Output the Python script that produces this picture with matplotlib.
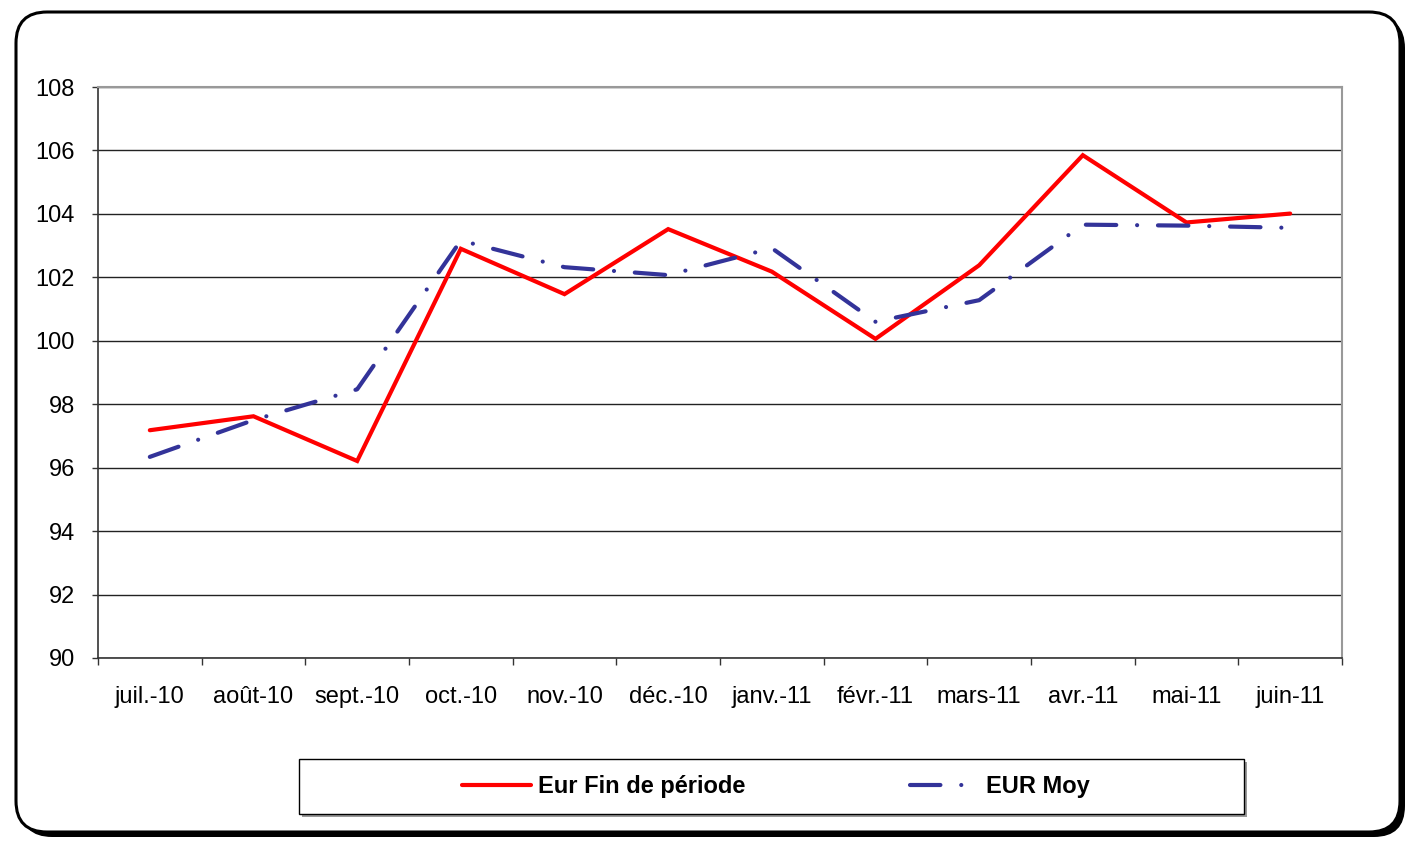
import matplotlib.pyplot as plt
from matplotlib.patches import FancyBboxPatch, Rectangle

plt.rcParams['font.family'] = ['Liberation Sans', 'DejaVu Sans']

# monthly index values
months = ["juil.-10", "août-10", "sept.-10", "oct.-10", "nov.-10", "déc.-10",
          "janv.-11", "févr.-11", "mars-11", "avr.-11", "mai-11", "juin-11"]
eur_fin = [97.18, 97.62, 96.21, 102.90, 101.47, 103.52,
           102.18, 100.06, 102.38, 105.85, 103.73, 104.01]
eur_moy = [96.34, 97.50, 98.47, 103.16, 102.32, 102.07,
           102.92, 100.60, 101.28, 103.66, 103.63, 103.56]
yticks = [90, 92, 94, 96, 98, 100, 102, 104, 106, 108]

W, H = 1412, 841
fig = plt.figure(figsize=(W / 100, H / 100), dpi=100)

# outer rounded frame with black shadow
shadow = FancyBboxPatch((21 / W, 1 - 837 / H), 1384 / W, 820 / H,
                        boxstyle="round,pad=0,rounding_size=0.022",
                        transform=fig.transFigure, facecolor="black",
                        edgecolor="black", lw=0, mutation_aspect=W / H,
                        zorder=-3)
frame = FancyBboxPatch((16 / W, 1 - 832 / H), 1384 / W, 820 / H,
                       boxstyle="round,pad=0,rounding_size=0.022",
                       transform=fig.transFigure, facecolor="white",
                       edgecolor="black", lw=2.2, mutation_aspect=W / H,
                       zorder=-2)
fig.patches.extend([shadow, frame])

# legend box with a light shadow
fig.patches.append(Rectangle((302 / W, 1 - 817 / H), 945 / W, 55 / H,
                             transform=fig.transFigure, facecolor="#999999",
                             edgecolor="none", zorder=-1))
fig.patches.append(Rectangle((299 / W, 1 - 814 / H), 945 / W, 55 / H,
                             transform=fig.transFigure, facecolor="white",
                             edgecolor="black", lw=1, zorder=-1))

ax = fig.add_axes([98 / W, 1 - 658 / H, (1342 - 98) / W, (658 - 87) / H])
ax.set_facecolor("white")
x = range(len(months))
ax.plot(x, eur_fin, color="#FF0000", lw=3, solid_capstyle="round",
        solid_joinstyle="miter", label="Eur Fin de période", zorder=3)
ax.plot(x, eur_moy, color="#333399", lw=3, dash_capstyle="round",
        dashes=(7.3, 5, 0.01, 5), label="EUR Moy", zorder=3)

ax.set_xlim(-0.5, len(months) - 0.5)
ax.set_ylim(90, 108)
ax.set_yticks(yticks)
ax.set_yticklabels([str(v) for v in yticks], fontsize=17)
ax.set_xticks(list(x))
ax.set_xticklabels(months, fontsize=17)
ax.set_xticks([i - 0.5 for i in range(len(months) + 1)], minor=True)
ax.tick_params(axis="x", which="major", length=0, pad=20)
ax.tick_params(axis="x", which="minor", length=5, width=1, color="#333333")
ax.tick_params(axis="y", length=4.5, width=1, pad=12, color="#333333")
ax.grid(axis="y", color="#222222", lw=1)
ax.set_axisbelow(True)
for s in ["left", "bottom"]:
    ax.spines[s].set_color("#333333")
    ax.spines[s].set_linewidth(1.2)
for s in ["top", "right"]:
    ax.spines[s].set_color("#999999")
    ax.spines[s].set_linewidth(1.5)

fig.legend(loc="center", bbox_to_anchor=(776 / W, 1 - 787 / H), ncol=2,
           frameon=False, prop={"size": 17, "weight": "bold"},
           handlelength=2.9, handletextpad=0.3, columnspacing=7.0)

fig.savefig("out.png", dpi=100)
